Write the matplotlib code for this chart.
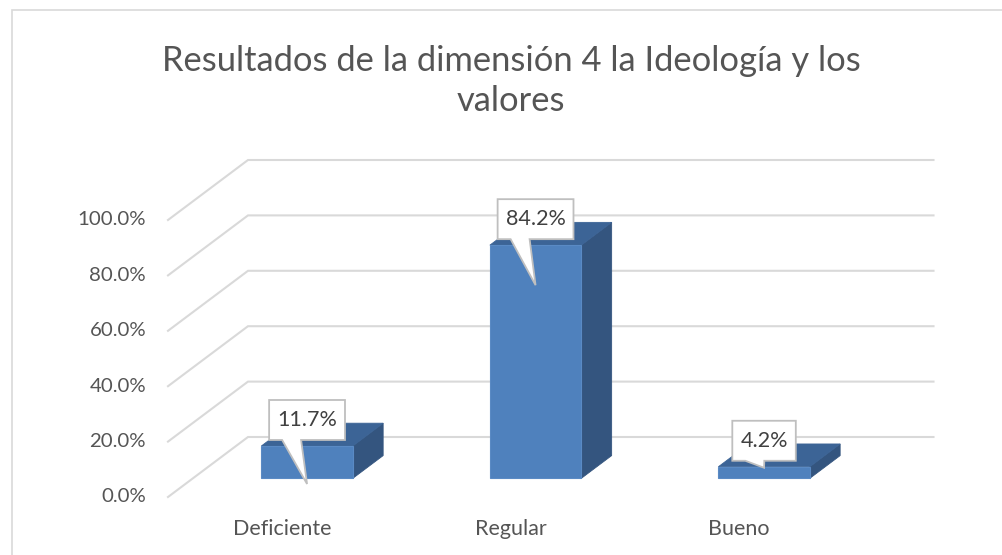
import matplotlib
matplotlib.use("Agg")
import matplotlib.pyplot as plt
from matplotlib.patches import Polygon, Rectangle

plt.rcParams["font.family"] = ["Lato", "DejaVu Sans"]

# =====================================================
# DATA
# =====================================================
categories = ["Deficiente", "Regular", "Bueno"]
values = [11.7, 84.2, 4.2]
tick_values = [0, 20, 40, 60, 80, 100]
tick_labels = ["0.0%", "20.0%", "40.0%", "60.0%", "80.0%", "100.0%"]
title = "Resultados de la dimensión 4 la Ideología y los\nvalores"

# =====================================================
# STYLE
# =====================================================
W, H = 1003, 555
TEXT = "#555555"
GRID = "#D9D9D9"
FRONT = "#4F81BD"
SIDE = "#34557F"
TOP = "#3C6496"

BAR_W = 0.4          # bar width in category units
D0, D1 = 0.31, 0.69  # bar depth range (0 = front, 1 = back wall)
DX = 80 / 228.5      # oblique offset per unit depth (x data units)
DY = 60 / 2.77       # oblique offset per unit depth (y data units)
TIP_DROP = [38, 40, 1]  # callout pointer length below bar top (px)


def proj(x, y, d):
    return x + d * DX, y + d * DY


fig = plt.figure(figsize=(W / 100, H / 100), dpi=100)

# chart area border (cut off on the right/bottom like the screenshot)
fig.patches.append(Rectangle((12 / W, -0.1), 1.2, 1.1 - 10 / H,
                             transform=fig.transFigure, fill=False,
                             ec=GRID, lw=1.2))

ax = fig.add_axes([168 / W, (H - 497) / H, 762 / W, 337 / H])
ax.set_xlim(-0.5, -0.5 + 762 / 228.5)
ax.set_ylim(0, 337 / 2.77)
ax.axis("off")

# ---- gridlines: side wall + back wall ----
n = len(categories)
for t in tick_values:
    a = proj(-0.5, t, 0)
    b = proj(-0.5, t, 1)
    c = proj(n - 0.5, t, 1)
    ax.plot([a[0], b[0], c[0]], [a[1], b[1], c[1]], color=GRID, lw=1.5,
            solid_joinstyle="miter", zorder=1, clip_on=False)

# ---- tick labels ----
for t, lab in zip(tick_values, tick_labels):
    ax.text(-0.5 - 0.096, t, lab, ha="right", va="center",
            fontsize=14.7, color=TEXT, clip_on=False)

# ---- category labels ----
for i, cat in enumerate(categories):
    ax.text(i, -11.4, cat, ha="center", va="center", fontsize=15.5,
            color=TEXT, clip_on=False)

# ---- 3D-looking bars ----
for i, v in enumerate(values):
    x0, x1 = i - BAR_W / 2, i + BAR_W / 2
    front = [proj(x0, 0, D0), proj(x1, 0, D0), proj(x1, v, D0), proj(x0, v, D0)]
    top = [proj(x0, v, D0), proj(x1, v, D0), proj(x1, v, D1), proj(x0, v, D1)]
    side = [proj(x1, 0, D0), proj(x1, 0, D1), proj(x1, v, D1), proj(x1, v, D0)]
    ax.add_patch(Polygon(side, closed=True, fc=SIDE, ec=SIDE, lw=0.6, zorder=3))
    ax.add_patch(Polygon(top, closed=True, fc=TOP, ec=TOP, lw=0.6, zorder=3))
    ax.add_patch(Polygon(front, closed=True, fc=FRONT, ec="#5A8AC4", lw=0.8, zorder=4))

# ---- callout data labels ----
fig.canvas.draw()
renderer = fig.canvas.get_renderer()
for i, v in enumerate(values):
    px, py = ax.transData.transform(proj(i, v, D0))
    cy = py + 26
    txt = ax.text(px, cy, f"{v:.1f}%", transform=None, ha="center",
                  va="center", fontsize=15.5, color="#404040", zorder=7)
    bb = txt.get_window_extent(renderer)
    half_w = bb.width / 2 + 8
    L, R = px - half_w, px + half_w
    T, B = cy + 20, cy - 20
    tip_y = py - TIP_DROP[i]
    outline = [(L, T), (R, T), (R, B), (L + 32, B), (px, tip_y), (L + 13, B), (L, B)]
    ax.add_patch(Polygon(outline, closed=True, transform=None, fc="white",
                         ec="#BFBFBF", lw=1.3, zorder=6, clip_on=False))

fig.text(511 / W, 1 - 81 / H, title, ha="center", va="center",
         fontsize=24.8, color=TEXT, linespacing=1.3)

fig.savefig("out.png", dpi=100)
